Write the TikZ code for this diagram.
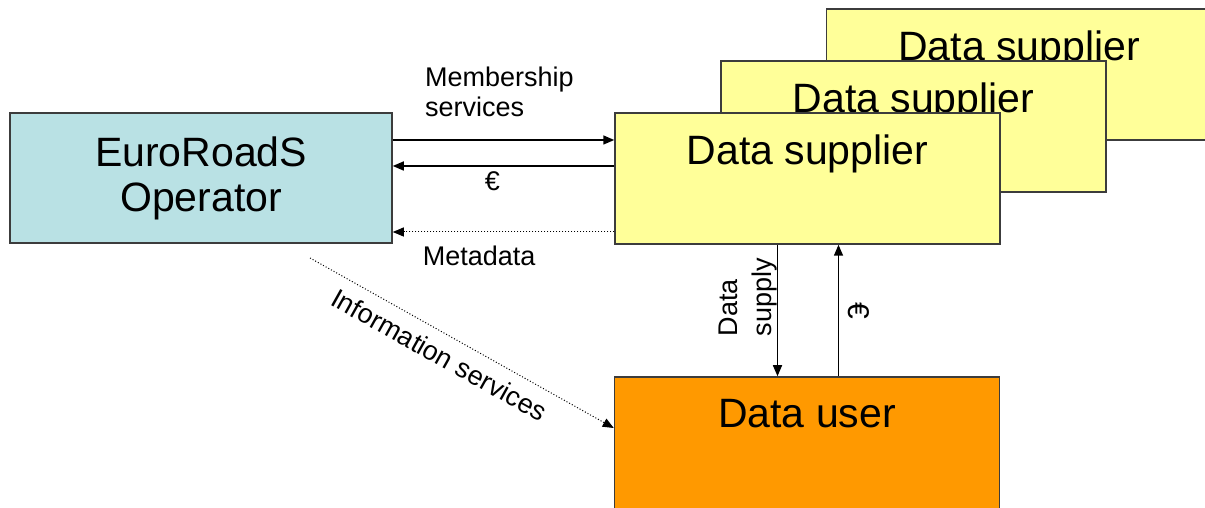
\documentclass[tikz,border=0pt]{standalone}
\usepackage{fontspec}
\setmainfont{Liberation Sans}
\usetikzlibrary{arrows.meta}
\definecolor{opblue}{RGB}{185,225,228}
\definecolor{supyellow}{RGB}{255,255,153}
\definecolor{userorange}{RGB}{255,153,0}
\definecolor{edgegray}{RGB}{60,60,60}

\begin{document}
\begin{tikzpicture}[x=1pt, y=1pt,
    box/.style={draw=edgegray, line width=1.5pt, minimum width=385pt, minimum height=131pt, inner sep=0pt},
    boxtext/.style={font=\fontsize{41}{45}\selectfont, inner sep=0pt, anchor=base},
    lbl/.style={font=\fontsize{27}{30}\selectfont, inner sep=2pt},
    flow/.style={line width=1.5pt, -{Triangle[length=11pt,width=9pt]}},
    infoflow/.style={line width=1pt, dotted, -{Triangle[length=11pt,width=9pt]}}]
  \path[use as bounding box, clip] (0,0) rectangle (1205,508);
  % operator
  \node[box, fill=opblue, minimum width=382pt, minimum height=130pt, align=center, font=\fontsize{41}{45}\selectfont] (op) at (201,330) {EuroRoadS\\Operator};
  % data suppliers, back to front
  \node[box, fill=supyellow] (sup3) at (1019,433.5) {};
  \node[boxtext] (sup3t) at ([yshift=-52pt]sup3.north) {Data supplier};
  \node[box, fill=supyellow] (sup2) at (913.5,381.5) {};
  \node[boxtext] (sup2t) at ([yshift=-52pt]sup2.north) {Data supplier};
  \node[box, fill=supyellow] (sup1) at (807.5,329.5) {};
  \node[boxtext] (sup1t) at ([yshift=-52pt]sup1.north) {Data supplier};
  % data user
  \node[box, fill=userorange, minimum height=150pt] (user) at (807,56) {};
  \node[boxtext] (usert) at ([yshift=-51pt]user.north) {Data user};

  % operator <-> supplier
  \draw[flow] ([yshift=38pt]op.east) -- ([yshift=38pt]op.east -| sup1.west);
  \node[lbl, anchor=north west, inner sep=0pt, align=left] (memlbl) at (425,441) {Membership\\services};
  \draw[flow] ([yshift=12pt]op.east -| sup1.west) -- ([yshift=12pt]op.east)
    node[lbl, pos=0.55, below=3pt] (eurlbl) {€};
  \draw[infoflow] ([yshift=-54pt]op.east -| sup1.west) -- ([yshift=-54pt]op.east)
    node[lbl, pos=0.61, below=11pt] (metalbl) {Metadata};

  % operator -> user
  \coordinate (infostart) at (310,250);
  \draw[infoflow] (infostart) -- ([yshift=24pt]user.west)
    node[lbl, pos=0.46, below=9pt, sloped] (infolbl) {Information services};

  % supplier <-> user
  \draw[flow] ([xshift=-30pt]sup1.south) -- ([xshift=-30pt]sup1.south |- user.north)
    node[lbl, pos=0.4, anchor=south, rotate=90, align=left, inner sep=0pt,
         font=\fontsize{27}{34}\selectfont] (supplylbl) {Data\\supply};
  \draw[flow] ([xshift=31pt]sup1.south |- user.north) -- ([xshift=31pt]sup1.south)
    node[lbl, midway, anchor=south, rotate=-90, inner sep=9pt, font=\fontsize{30}{34}\selectfont] (eurup) {€};
\end{tikzpicture}
\end{document}
